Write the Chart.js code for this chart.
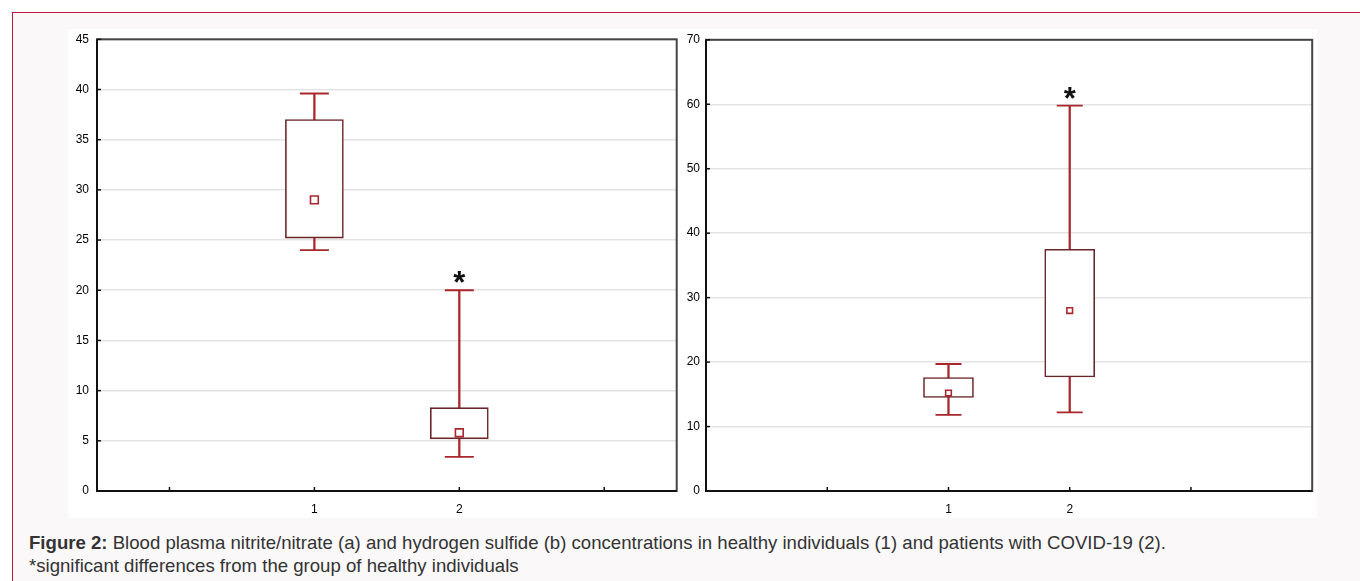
<!DOCTYPE html>
<html>
<head>
<meta charset="utf-8">
<script src="https://cdn.jsdelivr.net/npm/chart.js@4"></script>
<style>
  body { margin:0; background:#fff; width:1360px; height:581px; overflow:hidden; position:relative; font-family:"Liberation Sans", Arial, sans-serif; }
  #frame { position:absolute; left:12px; top:12px; width:1400px; height:620px; border:1.5px solid #c0173f; background:#faf8f9; }
  #panel { position:absolute; left:68px; top:29px; width:1249px; height:489px; background:#fff; }
  canvas { position:absolute; }
  #caption { position:absolute; left:29px; top:531px; font-size:18.6px; line-height:23px; color:#333; white-space:nowrap; }
</style>
</head>
<body>
<div id="frame"></div>
<div id="panel"></div>
<canvas id="chartA" width="625" height="495" style="left:68px;top:23px"></canvas>
<canvas id="chartB" width="644" height="493" style="left:683px;top:25px"></canvas>
<div id="caption"><b>Figure 2:</b> Blood plasma nitrite/nitrate (a) and hydrogen sulfide (b) concentrations in healthy individuals (1) and patients with COVID-19 (2).<br>*significant differences from the group of healthy individuals</div>
<script>
// groups: 1 = healthy, 2 = COVID-19
const groups = ['1', '2'];

// (a) nitrite/nitrate
const aMin  = [24.0, 3.4];
const aQ1   = [25.2, 5.2];
const aQ3   = [37.0, 8.3];
const aMax  = [39.6, 20.0];
const aMean = [29.0, 5.8];
const aSig  = [false, true];

// (b) hydrogen sulfide
const bMin  = [11.8, 12.2];
const bQ1   = [14.5, 17.7];
const bQ3   = [17.6, 37.5];
const bMax  = [19.7, 59.8];
const bMean = [15.2, 28.0];
const bSig  = [false, true];

const boxColor = '#6b2427';
const whiskColor = '#a8272c';

function pad(arr, n, fill) {
  let out = [];
  for (let i = 0; i < n; i++) out.push(fill);
  arr.forEach(v => out.push(v));
  for (let i = 0; i < n; i++) out.push(fill);
  return out;
}

const framePlugin = {
  id: 'frame',
  afterDraw(chart) {
    const ctx = chart.ctx;
    const a = chart.chartArea;
    ctx.save();
    ctx.lineWidth = 2;
    ctx.strokeStyle = '#444';
    ctx.strokeRect(a.left, a.top, a.right - a.left, a.bottom - a.top);
    ctx.strokeStyle = '#111';
    ctx.beginPath();
    ctx.moveTo(a.left, a.top); ctx.lineTo(a.left, a.bottom); ctx.lineTo(a.right, a.bottom);
    ctx.stroke();
    // small inward ticks
    ctx.lineWidth = 1.5;
    const y = chart.scales.y;
    y.ticks.forEach((t, i) => {
      const py = y.getPixelForTick(i);
      ctx.beginPath(); ctx.moveTo(a.left, py); ctx.lineTo(a.left + 4, py); ctx.stroke();
    });
    const x = chart.scales.x;
    x.ticks.forEach((t, i) => {
      const px = x.getPixelForTick(i);
      if (px <= a.left + 1 || px >= a.right - 1) return;
      ctx.beginPath(); ctx.moveTo(px, a.bottom); ctx.lineTo(px, a.bottom - 4); ctx.stroke();
    });
    ctx.restore();
  }
};

const starPlugin = {
  id: 'stars',
  afterDatasetsDraw(chart, args, opts) {
    const ctx = chart.ctx;
    const x = chart.scales.x, y = chart.scales.y;
    ctx.save();
    ctx.fillStyle = '#111';
    ctx.font = 'bold 31px "Liberation Sans", Arial';
    ctx.textAlign = 'center';
    ctx.textBaseline = 'alphabetic';
    opts.sig.forEach((s, i) => {
      if (!s || opts.top[i] == null) return;
      const px = x.getPixelForValue(i);
      const py = y.getPixelForValue(opts.top[i]);
      ctx.fillText('*', px, py + 3);
    });
    ctx.restore();
  }
};

function makeChart(id, cfg) {
  const n = cfg.padN;
  const labels = pad(groups, n, '');
  const mn = pad(cfg.min, n, null), mx = pad(cfg.max, n, null);
  const q1 = pad(cfg.q1, n, null), q3 = pad(cfg.q3, n, null);
  const mean = pad(cfg.mean, n, null), sig = pad(cfg.sig, n, false);
  return new Chart(document.getElementById(id), {
    type: 'bar',
    data: {
      labels: labels,
      datasets: [
        {
          label: 'whisker',
          data: mn.map((v, i) => v == null ? null : [v, mx[i]]),
          backgroundColor: whiskColor,
          barThickness: 1.6,
          grouped: false,
          order: 4
        },
        {
          label: 'box',
          data: q1.map((v, i) => v == null ? null : [v, q3[i]]),
          backgroundColor: '#ffffff',
          borderColor: boxColor,
          borderWidth: 1.6,
          borderSkipped: false,
          barThickness: cfg.boxW,
          grouped: false,
          order: 3
        },
        {
          type: 'line',
          label: 'min',
          data: mn,
          showLine: false,
          pointStyle: 'line',
          pointRadius: cfg.capR,
          pointBorderWidth: 1.8,
          pointBorderColor: whiskColor,
          order: 2
        },
        {
          type: 'line',
          label: 'max',
          data: mx,
          showLine: false,
          pointStyle: 'line',
          pointRadius: cfg.capR,
          pointBorderWidth: 1.8,
          pointBorderColor: whiskColor,
          order: 2
        },
        {
          type: 'line',
          label: 'mean',
          data: mean,
          showLine: false,
          pointStyle: 'rect',
          pointRadius: cfg.meanR,
          pointBorderWidth: 1.6,
          pointBorderColor: whiskColor,
          pointBackgroundColor: '#ffffff',
          order: 1
        }
      ]
    },
    options: {
      responsive: false,
      animation: false,
      layout: { padding: { top: 0, right: cfg.padR, left: 0, bottom: 0 } },
      plugins: {
        legend: { display: false },
        tooltip: { enabled: false },
        stars: { sig: sig, top: mx }
      },
      scales: {
        x: {
          type: 'category',
          offset: cfg.offset,
          grid: { display: false },
          border: { display: false },
          ticks: { autoSkip: false, maxRotation: 0, padding: 3, color: '#000', font: { family: '"Liberation Sans", Arial', size: 12 } },
          afterFit: s => { s.height = 27; }
        },
        y: {
          min: 0,
          max: cfg.yMax,
          ticks: { stepSize: cfg.yStep, padding: cfg.yPad, color: '#000', font: { family: '"Liberation Sans", Arial', size: 12 } },
          grid: { color: '#e3e3e3', lineWidth: 1.5, drawTicks: false },
          border: { display: false },
          afterFit: s => { s.width = cfg.yW; }
        }
      }
    },
    plugins: [framePlugin, starPlugin]
  });
}

makeChart('chartA', {
  padN: 1, offset: true, min: aMin, q1: aQ1, q3: aQ3, max: aMax, mean: aMean, sig: aSig,
  boxW: 58, capR: 14.5, meanR: 5.5, yMax: 45, yStep: 5, yW: 29, yPad: 8, padR: 7
});
makeChart('chartB', {
  padN: 2, offset: false, min: bMin, q1: bQ1, q3: bQ3, max: bMax, mean: bMean, sig: bSig,
  boxW: 50, capR: 13, meanR: 4, yMax: 70, yStep: 10, yW: 23, yPad: 6, padR: 5
});
</script>
</body>
</html>
